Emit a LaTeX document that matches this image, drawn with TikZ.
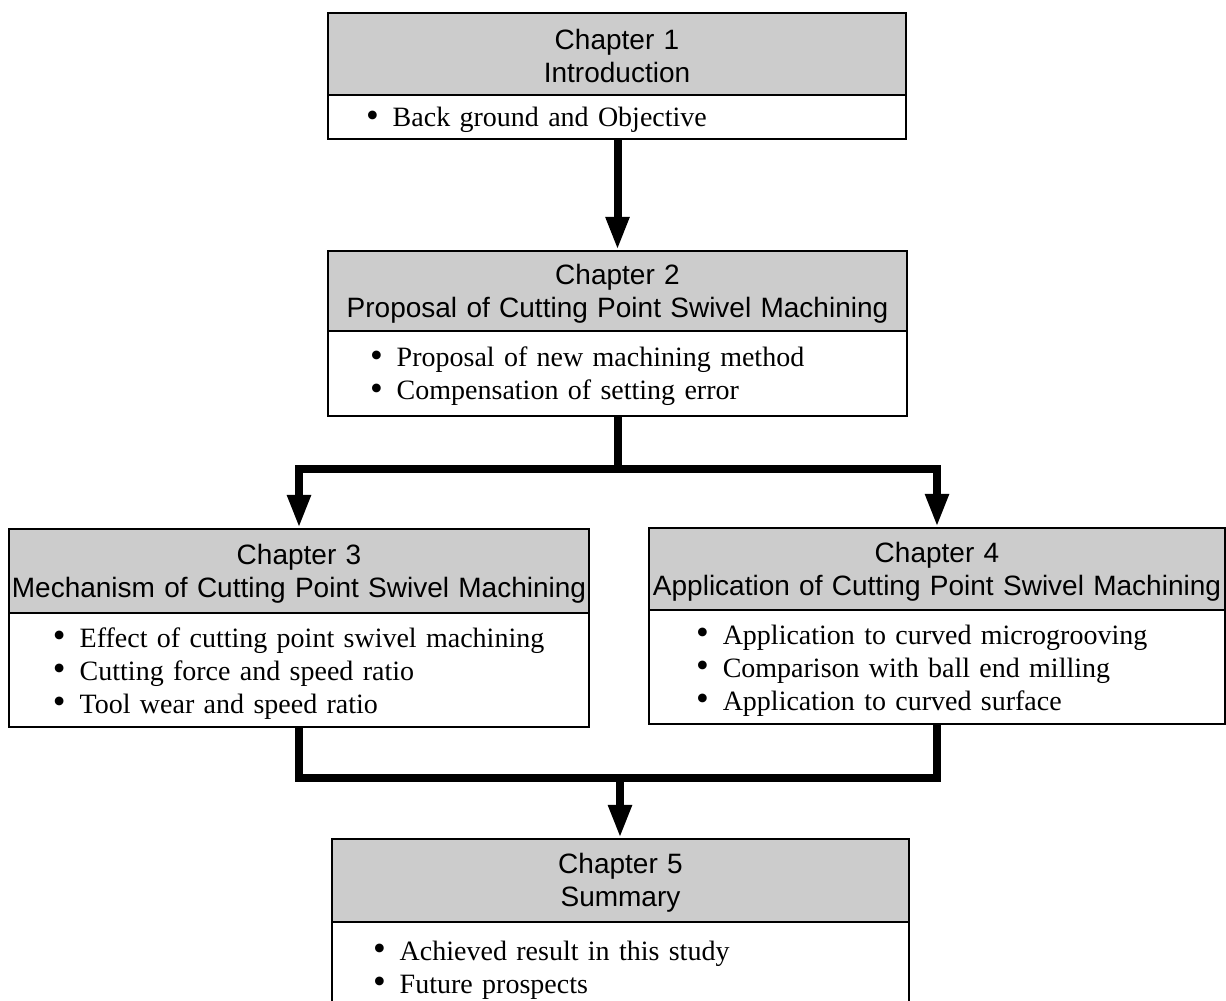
\documentclass[tikz,border=0pt]{standalone}
\usepackage{fontspec}
\setmainfont{Liberation Serif}
\setsansfont{Liberation Sans}
\usetikzlibrary{arrows.meta,calc}
\definecolor{hdrgray}{RGB}{204,204,204}
\newcommand\mybul{\smash{\raisebox{-0.8pt}{\scalebox{1.3}{\textbullet}}}}
\newcommand\myitem[2]{\hspace*{#1}\mybul\hspace{14pt}#2}
\newcommand\toprule{\rule{0pt}{26pt}}
\newcommand\hdrrule{\rule{0pt}{25pt}}
\begin{document}
\begin{tikzpicture}[x=1pt,y=-1pt,
  hdr/.style={draw=black, line width=2.2pt, fill=hdrgray, inner sep=0pt, align=center,
    font=\sffamily\fontsize{28}{33}\selectfont},
  bodybox/.style={draw=black, line width=2.2pt, fill=white, inner sep=0pt, align=left,
    font=\rmfamily\fontsize{28}{33}\selectfont},
  conn/.style={line width=8pt, draw=black},
  arr/.style={conn, -{Triangle[length=33pt,width=22pt]}}]
\useasboundingbox[fill=white] (0,0) rectangle (1226,1001);

% Chapter 1
\node[hdr, text width=578pt, minimum height=82pt] (h1) at (617,54) {\hdrrule Chapter 1\\Introduction};
\node[bodybox, text width=578pt, minimum height=44pt] (b1) at (617,117)
  {\toprule\myitem{38pt}{Back ground and Objective}};

% Chapter 2
\node[hdr, text width=579pt, minimum height=80pt] (h2) at (617.5,291) {\hdrrule Chapter 2\\Proposal of Cutting Point Swivel Machining};
\node[bodybox, text width=579pt, minimum height=85pt] (b2) at (617.5,373.5)
  {\toprule\myitem{42pt}{Proposal of new machining method}\\\myitem{42pt}{Compensation of setting error}};

% Chapter 3
\node[hdr, text width=580pt, minimum height=84pt] (h3) at (299,571) {\hdrrule Chapter 3\\Mechanism of Cutting Point Swivel Machining};
\node[bodybox, text width=580pt, minimum height=114pt] (b3) at (299,670)
  {\toprule\myitem{44pt}{Effect of cutting point swivel machining}\\\myitem{44pt}{Cutting force and speed ratio}\\\myitem{44pt}{Tool wear and speed ratio}};

% Chapter 4
\node[hdr, text width=576pt, minimum height=82pt] (h4) at (937,569) {\hdrrule Chapter 4\\Application of Cutting Point Swivel Machining};
\node[bodybox, text width=576pt, minimum height=114pt] (b4) at (937,667)
  {\toprule\myitem{47pt}{Application to curved microgrooving}\\\myitem{47pt}{Comparison with ball end milling}\\\myitem{47pt}{Application to curved surface}};

% Chapter 5
\node[hdr, text width=577pt, minimum height=83pt] (h5) at (620.5,880.5) {\hdrrule Chapter 5\\Summary};
\node[bodybox, text width=577pt, minimum height=89pt] (b5) at (620.5,966.5)
  {\toprule\myitem{41pt}{Achieved result in this study}\\\myitem{41pt}{Future prospects}};

% connectors
\draw[arr] (b1.south -| h2.north) -- (h2.north);

\coordinate (j1) at (617.5,469);
\draw[conn] (b2.south) -- (j1);
\draw[arr] (j1) -| (h3.north);
\draw[arr] (j1) -| (h4.north);

\coordinate (j2) at (620,778);
\draw[conn] (b3.south) |- (j2) -| (b4.south);
\draw[arr] (j2) -- (j2 |- h5.north);
\end{tikzpicture}
\end{document}
